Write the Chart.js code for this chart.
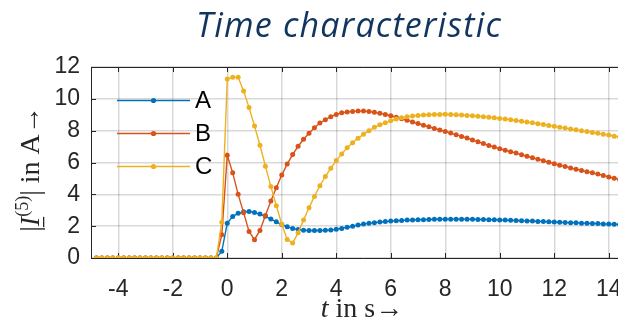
<!DOCTYPE html>
<html>
<head>
<meta charset="utf-8">
<script src="https://cdn.jsdelivr.net/npm/chart.js@4"></script>
<style>
  html, body { margin: 0; padding: 0; background: #fff; overflow: hidden; }
  #wrap { width: 618px; height: 325px; overflow: hidden; }
</style>
</head>
<body>
<div id="wrap"><canvas id="chart" width="650" height="325"></canvas></div>
<script>
// time in s, sampled every 0.2 s
const time = [
  -4.8, -4.6, -4.4, -4.2, -4.0, -3.8, -3.6, -3.4, -3.2, -3.0,
  -2.8, -2.6, -2.4, -2.2, -2.0, -1.8, -1.6, -1.4, -1.2, -1.0,
  -0.8, -0.6, -0.4, -0.2, 0.0, 0.2, 0.4, 0.6, 0.8, 1.0,
  1.2, 1.4, 1.6, 1.8, 2.0, 2.2, 2.4, 2.6, 2.8, 3.0,
  3.2, 3.4, 3.6, 3.8, 4.0, 4.2, 4.4, 4.6, 4.8, 5.0,
  5.2, 5.4, 5.6, 5.8, 6.0, 6.2, 6.4, 6.6, 6.8, 7.0,
  7.2, 7.4, 7.6, 7.8, 8.0, 8.2, 8.4, 8.6, 8.8, 9.0,
  9.2, 9.4, 9.6, 9.8, 10.0, 10.2, 10.4, 10.6, 10.8, 11.0,
  11.2, 11.4, 11.6, 11.8, 12.0, 12.2, 12.4, 12.6, 12.8, 13.0,
  13.2, 13.4, 13.6, 13.8, 14.0, 14.2, 14.4, 14.6, 14.8, 15.0
];

// |I(5)| in A
const phaseA = [
  0, 0, 0, 0, 0, 0, 0, 0, 0, 0,
  0, 0, 0, 0, 0, 0, 0, 0, 0, 0,
  0, 0, 0, 0.42, 2.19, 2.6, 2.81, 2.9, 2.92, 2.86,
  2.76, 2.62, 2.45, 2.27, 2.1, 1.96, 1.86, 1.79, 1.75, 1.73,
  1.73, 1.73, 1.74, 1.76, 1.8, 1.86, 1.93, 2.0, 2.07, 2.13,
  2.18, 2.22, 2.26, 2.29, 2.32, 2.34, 2.36, 2.38, 2.39, 2.4,
  2.41, 2.42, 2.43, 2.43, 2.44, 2.44, 2.44, 2.44, 2.43, 2.43,
  2.42, 2.42, 2.41, 2.4, 2.39, 2.38, 2.37, 2.36, 2.34, 2.33,
  2.32, 2.3, 2.29, 2.27, 2.26, 2.25, 2.23, 2.22, 2.21, 2.19,
  2.18, 2.17, 2.16, 2.14, 2.13, 2.12, 2.11, 2.1, 2.09, 2.08
];
const phaseB = [
  0, 0, 0, 0, 0, 0, 0, 0, 0, 0,
  0, 0, 0, 0, 0, 0, 0, 0, 0, 0,
  0, 0, 0, 1.46, 6.46, 5.35, 4.0, 2.85, 1.67, 1.15,
  1.73, 2.67, 3.58, 4.42, 5.21, 5.9, 6.5, 7.02, 7.46, 7.84,
  8.19, 8.48, 8.69, 8.88, 9.02, 9.12, 9.17, 9.21, 9.23, 9.23,
  9.2, 9.15, 9.09, 9.02, 8.94, 8.85, 8.75, 8.65, 8.55, 8.45,
  8.34, 8.24, 8.14, 8.04, 7.95, 7.85, 7.75, 7.64, 7.54, 7.42,
  7.3, 7.19, 7.07, 6.97, 6.87, 6.77, 6.68, 6.59, 6.49, 6.39,
  6.3, 6.21, 6.11, 6.02, 5.92, 5.83, 5.75, 5.66, 5.58, 5.5,
  5.42, 5.35, 5.27, 5.19, 5.09, 5.01, 4.93, 4.86, 4.79, 4.72
];
const phaseC = [
  0, 0, 0, 0, 0, 0, 0, 0, 0, 0,
  0, 0, 0, 0, 0, 0, 0, 0, 0, 0,
  0, 0, 0, 2.25, 11.25, 11.35, 11.35, 10.5, 9.45, 8.3,
  7.08, 5.77, 4.5, 3.29, 2.12, 1.17, 0.94, 1.58, 2.39, 3.16,
  3.87, 4.54, 5.12, 5.64, 6.12, 6.54, 6.92, 7.24, 7.52, 7.77,
  8.0, 8.21, 8.37, 8.5, 8.62, 8.73, 8.81, 8.87, 8.92, 8.96,
  8.98, 9.0, 9.02, 9.02, 9.03, 9.02, 9.0, 8.98, 8.96, 8.94,
  8.91, 8.88, 8.85, 8.81, 8.77, 8.73, 8.69, 8.64, 8.59, 8.54,
  8.49, 8.44, 8.39, 8.33, 8.27, 8.21, 8.16, 8.1, 8.05, 8.0,
  7.94, 7.88, 7.83, 7.78, 7.73, 7.65, 7.6, 7.55, 7.5, 7.45
];

const seriesNames = ['A', 'B', 'C'];
const seriesColors = ['#0072BD', '#D95319', '#EDB120'];
const xTicks = [-4, -2, 0, 2, 4, 6, 8, 10, 12, 14];
const yTicks = [0, 2, 4, 6, 8, 10, 12];

const axisColor = '#262626';
const tickFont = '23px "Liberation Sans", Arial, sans-serif';
const serif = '"Liberation Serif", "Times New Roman", serif';

const toPoints = (ys) => time.map((x, i) => ({ x: x, y: ys[i] }));

// box, inward tick marks, legend and text labels (MATLAB look)
const decor = {
  id: 'decor',
  beforeDatasetsDraw(chart) {
    const { ctx, chartArea: a, scales } = chart;
    ctx.save();
    ctx.strokeStyle = axisColor;
    ctx.lineWidth = 1;
    ctx.beginPath();
    ctx.moveTo(a.left + 0.5, a.top + 0.5);
    ctx.lineTo(a.right, a.top + 0.5);
    ctx.moveTo(a.left + 0.5, a.top);
    ctx.lineTo(a.left + 0.5, a.bottom + 0.5);
    ctx.lineTo(a.right, a.bottom + 0.5);
    xTicks.forEach((v) => {
      const px = Math.round(scales.x.getPixelForValue(v)) + 0.5;
      ctx.moveTo(px, a.bottom);
      ctx.lineTo(px, a.bottom - 5);
      ctx.moveTo(px, a.top);
      ctx.lineTo(px, a.top + 5);
    });
    yTicks.forEach((v) => {
      const py = Math.round(scales.y.getPixelForValue(v)) + 0.5;
      ctx.moveTo(a.left, py);
      ctx.lineTo(a.left + 5, py);
    });
    ctx.stroke();
    ctx.restore();
  },
  afterDraw(chart) {
    const { ctx } = chart;
    ctx.save();

    // legend inside the axes
    seriesNames.forEach((name, i) => {
      const y = 100.5 + i * 33;
      ctx.strokeStyle = seriesColors[i];
      ctx.lineWidth = 1.5;
      ctx.beginPath();
      ctx.moveTo(117, y);
      ctx.lineTo(190, y);
      ctx.stroke();
      ctx.fillStyle = seriesColors[i];
      ctx.beginPath();
      ctx.arc(153.5, y, 2.6, 0, Math.PI * 2);
      ctx.fill();
      ctx.fillStyle = '#000';
      ctx.font = '24px "Liberation Sans", Arial, sans-serif';
      ctx.textAlign = 'left';
      ctx.textBaseline = 'middle';
      ctx.fillText(name, 195, y + 1);
    });

    // title
    ctx.fillStyle = '#12355F';
    ctx.font = 'italic 34px "Open Sans", sans-serif';
    ctx.letterSpacing = '1.2px';
    ctx.textAlign = 'center';
    ctx.textBaseline = 'alphabetic';
    ctx.fillText('Time characteristic', 349, 37);
    ctx.letterSpacing = '0px';

    // x axis label: t in s->
    ctx.fillStyle = axisColor;
    const xParts = [
      { text: 't', font: 'italic 28px ' + serif },
      { text: ' in s\u2192', font: '28px ' + serif }
    ];
    drawParts(ctx, xParts, 362, 317);

    // y axis label: |I^(5)| in A->, rotated
    ctx.translate(39, 169);
    ctx.rotate(-Math.PI / 2);
    const yParts = [
      { text: '|', font: '28px ' + serif },
      { text: 'I', font: 'italic 28px ' + serif, underline: true },
      { text: '(5)', font: '18px ' + serif, rise: 11 },
      { text: '| in A\u2192', font: '28px ' + serif }
    ];
    drawParts(ctx, yParts, 0, 0);
    ctx.restore();
  }
};

// draws mixed-font text centred on cx, baseline at by
function drawParts(ctx, parts, cx, by) {
  ctx.textAlign = 'left';
  ctx.textBaseline = 'alphabetic';
  let total = 0;
  parts.forEach((p) => { ctx.font = p.font; p.w = ctx.measureText(p.text).width; total += p.w; });
  let x = cx - total / 2;
  parts.forEach((p) => {
    ctx.font = p.font;
    ctx.fillText(p.text, x, by - (p.rise || 0));
    if (p.underline) {
      ctx.fillRect(x - 1, by + 4, p.w + 1, 1.3);
    }
    x += p.w;
  });
}

new Chart(document.getElementById('chart'), {
  type: 'line',
  data: {
    datasets: [phaseA, phaseB, phaseC].map((ys, i) => ({
      label: seriesNames[i],
      data: toPoints(ys),
      borderColor: seriesColors[i],
      backgroundColor: seriesColors[i],
      borderWidth: 1.4,
      pointRadius: 2.5,
      pointBorderWidth: 0,
      pointBackgroundColor: seriesColors[i],
      fill: false,
      tension: 0,
      order: 2 - i
    }))
  },
  options: {
    responsive: false,
    animation: false,
    layout: { padding: { left: 0, right: 14, top: 67, bottom: 0 } },
    plugins: { legend: { display: false }, tooltip: { enabled: false } },
    scales: {
      x: {
        type: 'linear',
        min: -5,
        max: 15,
        afterBuildTicks: (s) => { s.ticks = xTicks.map((v) => ({ value: v })); },
        afterFit: (s) => { s.height = 67; },
        grid: { color: 'rgba(0,0,0,0.15)', lineWidth: 1.5, drawTicks: false },
        border: { display: false },
        ticks: { font: { family: '"Liberation Sans", Arial', size: 23 }, color: axisColor, padding: 18, maxRotation: 0, callback: (v) => String(v) }
      },
      y: {
        min: 0,
        max: 12,
        afterBuildTicks: (s) => { s.ticks = yTicks.map((v) => ({ value: v })); },
        afterFit: (s) => { s.width = 91; },
        grid: { color: 'rgba(0,0,0,0.15)', lineWidth: 1.5, drawTicks: false },
        border: { display: false },
        ticks: { font: { family: '"Liberation Sans", Arial', size: 23 }, color: axisColor, padding: 11, callback: (v) => String(v) }
      }
    }
  },
  plugins: [decor]
});
</script>
</body>
</html>
